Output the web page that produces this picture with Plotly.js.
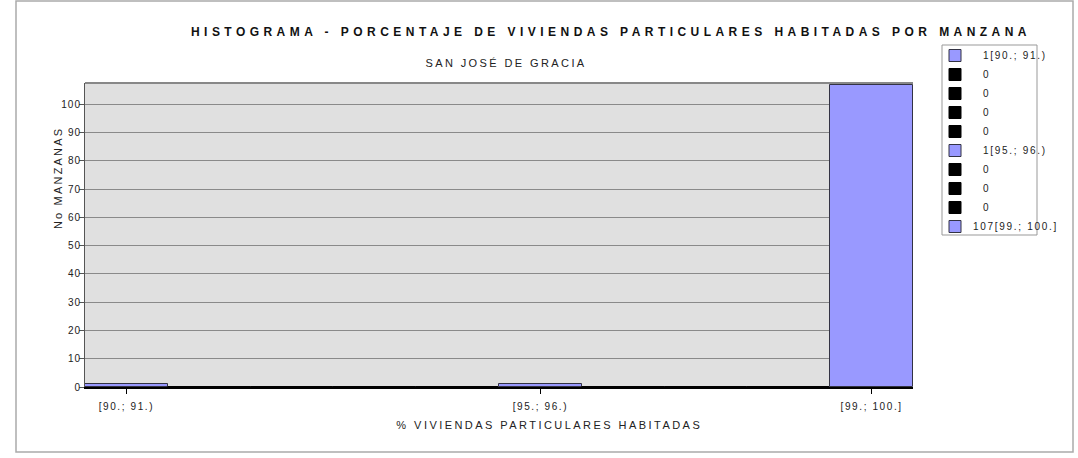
<!DOCTYPE html>
<html>
<head>
<meta charset="utf-8">
<script src="https://cdn.plot.ly/plotly-3.0.1.min.js"></script>
<style>
  html, body { margin: 0; padding: 0; background: #fff; }
  #chart { width: 1078px; height: 458px; }
  .main-svg text { letter-spacing: 1.6px; }
  .gtitle { letter-spacing: 4.45px !important; }
  g.annotation[data-index="0"] text { letter-spacing: 2.4px !important; }
  g.annotation[data-index="1"] text { letter-spacing: 2.45px !important; }
  g.annotation[data-index="2"] text { letter-spacing: 2.2px !important; }
  .ytick text { letter-spacing: 1.0px !important; }
  .legendtext { letter-spacing: 1.7px !important; }
  .legend .traces:nth-of-type(10) .legendtext { transform: translateX(-10px); }
</style>
</head>
<body>
<div id="chart"></div>
<script>
// ---- data ----
const binLabels = ["[90.; 91.)", "[91.; 92.)", "[92.; 93.)", "[93.; 94.)", "[94.; 95.)",
                   "[95.; 96.)", "[96.; 97.)", "[97.; 98.)", "[98.; 99.)", "[99.; 100.]"];
const counts = [1, 0, 0, 0, 0, 1, 0, 0, 0, 107];
const shownTickIdx = [0, 5, 9];
const yTicks = [0, 10, 20, 30, 40, 50, 60, 70, 80, 90, 100];

const chartTitle = "HISTOGRAMA - PORCENTAJE DE VIVIENDAS PARTICULARES HABITADAS POR MANZANA";
const subTitle = "SAN JOSÉ DE GRACIA";
const xTitle = "% VIVIENDAS PARTICULARES HABITADAS";
const yTitle = "No MANZANAS";

// ---- styling ----
const FILL = "#9999FF";
const W = 1078, H = 458;
const M = {l: 85, r: 165, t: 83, b: 71};
const pw = W - M.l - M.r, ph = H - M.t - M.b;
const px2x = p => (p - M.l) / pw;
const py2y = p => (H - M.b - p) / ph;

const traces = counts.map((c, i) => ({
  type: "bar",
  x: [i],
  y: [c],
  width: [1],
  name: c > 0 ? c + binLabels[i] : String(c),
  marker: {
    color: c > 0 ? FILL : "#000000",
    line: {color: c > 0 ? "#333344" : "#000000", width: 1}
  },
  hoverinfo: "x+y",
  showlegend: true
}));

const fontFam = "Liberation Sans, Arial, sans-serif";

const layout = {
  width: W, height: H,
  margin: M,
  paper_bgcolor: "#ffffff",
  plot_bgcolor: "#E0E0E0",
  barmode: "overlay",
  bargap: 0,
  font: {family: fontFam, size: 10, color: "#222"},
  title: {
    text: "<b>" + chartTitle + "</b>",
    font: {family: fontFam, size: 12, color: "#111"},
    xref: "container", yref: "container",
    x: 611 / W, y: 1 - 32 / H,
    xanchor: "center", yanchor: "middle"
  },
  xaxis: {
    range: [-0.5, 9.5],
    tickmode: "array",
    tickvals: shownTickIdx,
    ticktext: shownTickIdx.map(i => binLabels[i]),
    ticks: "outside", ticklen: 5, tickcolor: "#000",
    ticklabelstandoff: 4,
    showgrid: false, zeroline: false,
    showline: true, linecolor: "#000", linewidth: 2,
    tickfont: {family: fontFam, size: 10, color: "#222"},
    fixedrange: true
  },
  yaxis: {
    range: [0, 107.6],
    tickmode: "array",
    tickvals: yTicks,
    ticks: "outside", ticklen: 5, tickcolor: "#555",
    ticklabelstandoff: -4,
    showgrid: true, gridcolor: "#8a8a8a", gridwidth: 1,
    zeroline: false,
    showline: true, linecolor: "#555", linewidth: 1,
    tickfont: {family: fontFam, size: 10, color: "#222"},
    fixedrange: true
  },
  legend: {
    xref: "container", yref: "container",
    x: 927 / W, y: 1 - 41 / H,
    xanchor: "left", yanchor: "top",
    bgcolor: "rgba(0,0,0,0)",
    borderwidth: 0,
    itemwidth: 46,
    font: {family: fontFam, size: 10, color: "#222"},
    tracegroupgap: 0,
    traceorder: "normal",
    itemclick: false, itemdoubleclick: false
  },
  annotations: [
    {text: subTitle, xref: "paper", yref: "paper", x: px2x(506), y: py2y(63),
     showarrow: false, xanchor: "center", yanchor: "middle",
     font: {family: fontFam, size: 11, color: "#222"}},
    {text: xTitle, xref: "paper", yref: "paper", x: px2x(549), y: py2y(425),
     showarrow: false, xanchor: "center", yanchor: "middle",
     font: {family: fontFam, size: 11, color: "#222"}},
    {text: yTitle, xref: "paper", yref: "paper", x: px2x(58), y: py2y(178),
     showarrow: false, xanchor: "center", yanchor: "middle", textangle: -90,
     font: {family: fontFam, size: 11, color: "#222"}}
  ],
  shapes: [
    {type: "rect", xref: "paper", yref: "paper", layer: "below",
     x0: px2x(16), x1: px2x(1073), y0: py2y(452), y1: py2y(1),
     line: {color: "#aaaaaa", width: 1.5}, fillcolor: "rgba(0,0,0,0)"},
    {type: "rect", xref: "paper", yref: "paper", layer: "below",
     x0: px2x(942), x1: px2x(1037), y0: py2y(235), y1: py2y(45),
     line: {color: "#999999", width: 1}, fillcolor: "#ffffff"},
    {type: "line", xref: "paper", yref: "paper", layer: "above",
     x0: 0, x1: 1, y0: 1, y1: 1, line: {color: "#888888", width: 2}}
  ],
  hovermode: "closest"
};

Plotly.newPlot("chart", traces, layout, {displayModeBar: false});
</script>
</body>
</html>
